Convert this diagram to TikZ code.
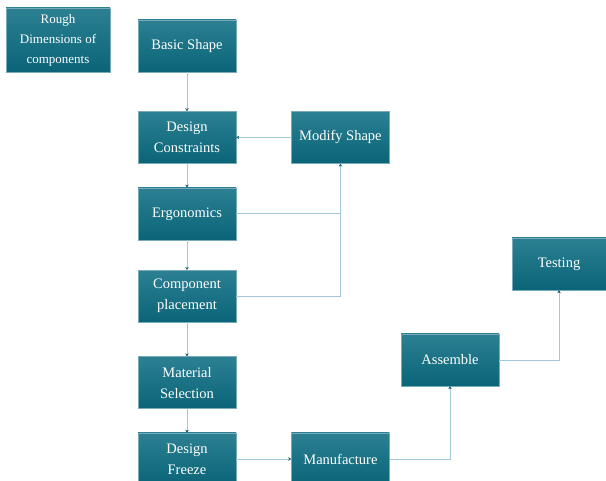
\documentclass[tikz,border=0pt]{standalone}
\usepackage{fontspec}
\setmainfont{Liberation Serif}
\usetikzlibrary{arrows.meta, positioning}
\definecolor{boxtop}{RGB}{44,128,146}
\definecolor{boxbot}{RGB}{10,100,120}
\definecolor{boxedge}{RGB}{120,170,185}
\definecolor{linkc}{RGB}{160,200,218}
\definecolor{tipc}{RGB}{20,95,115}

\begin{document}
\begin{tikzpicture}[
  x=1pt, y=1pt,
  font=\fontsize{14.5}{21}\selectfont,
  box/.style={draw=boxedge, line width=0.4pt, top color=boxtop, bottom color=boxbot,
    text=white, minimum width=98pt, minimum height=52pt, inner sep=1pt, align=center},
  arr/.style={draw=linkc, line width=0.9pt, -{Stealth[length=3pt, width=3.5pt, color=tipc]}},
  link/.style={draw=linkc, line width=0.9pt}
]
\useasboundingbox (0,0) rectangle (606,-481);

\node[box, minimum width=104pt, minimum height=64pt, font=\fontsize{13}{20}\selectfont] (rd) at (58,-40) {Rough\\Dimensions of\\components};
\node[box] (bs) at (187,-46) {Basic Shape};
\node[box, below=39pt of bs] (dc) {Design\\Constraints};
\node[box, right=55pt of dc] (ms) {Modify Shape};
\node[box, below=24pt of dc] (er) {Ergonomics};
\node[box, below=30pt of er] (cp) {Component\\placement};
\node[box, below=34pt of cp] (mt) {Material\\Selection};
\node[box, below=24pt of mt] (df) {Design\\Freeze};
\node[box, right=55pt of df] (mf) {Manufacture};
\node[box] (as) at (450,-360) {Assemble};
\node[box, minimum width=94pt] (ts) at (559,-264) {Testing};

\draw[arr] (bs) -- (dc);
\draw[arr] (dc) -- (er);
\draw[arr] (er) -- (cp);
\draw[arr] (cp) -- (mt);
\draw[arr] (mt) -- (df);
\draw[arr] (ms) -- (dc);
\draw[arr] (df) -- (mf);

% feedback to modify shape
\draw[link] (er.east) -| (ms.south);
\draw[arr] (cp.east) -| (ms.south);

\draw[arr] (mf.east) -| (as.south);
\draw[arr] (as.east) -| (ts.south);
\end{tikzpicture}
\end{document}
